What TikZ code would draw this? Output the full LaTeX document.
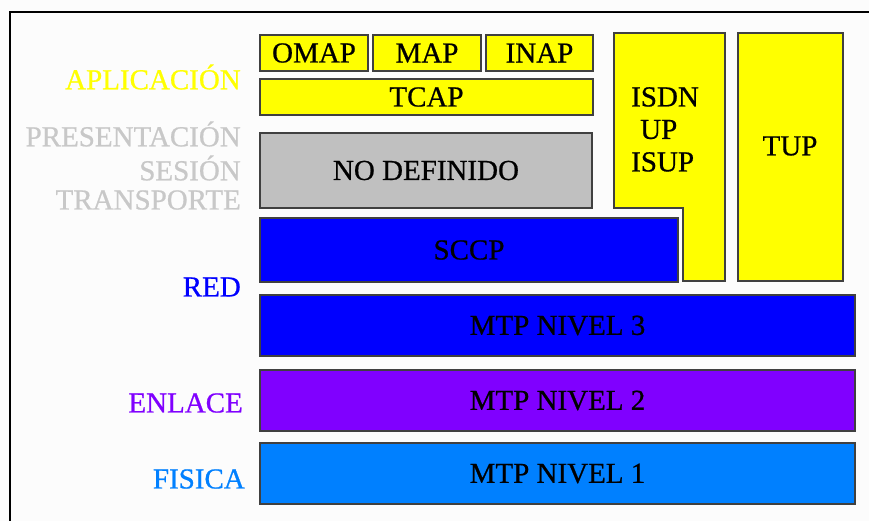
\documentclass[tikz,border=0pt]{standalone}
\usepackage{fontspec}
\setmainfont[FakeBold=0.7]{Liberation Serif}
\definecolor{ylw}{HTML}{FFFF00}
\definecolor{gry}{HTML}{C0C0C0}
\definecolor{blu}{HTML}{0000FF}
\definecolor{pur}{HTML}{8000FF}
\definecolor{lbl}{HTML}{0080FF}
\definecolor{lgry}{HTML}{C8C8C8}
\definecolor{bg}{HTML}{FCFCFC}
\definecolor{edge}{HTML}{404040}
\tikzset{
  layer/.style={draw=edge, line width=1.3pt, anchor=north west, inner sep=0pt, outer sep=0pt,
    font=\fontsize{29}{31}\selectfont, text=black},
  lab/.style={anchor=east, inner sep=0pt, font=\fontsize{29}{31}\selectfont},
  txt/.style={inner sep=0pt, font=\fontsize{29}{31}\selectfont}
}
\begin{document}
\begin{tikzpicture}[x=1pt,y=-1pt]
\useasboundingbox (0,0) rectangle (869,521);
\fill[bg] (0,0) rectangle (869,521);
\draw[line width=2pt] (10,521) -- (10,12) -- (869,12);
% top application boxes
\node[layer, fill=ylw, minimum width=108pt, minimum height=36pt] (omap) at (260,35) {OMAP};
\node[layer, fill=ylw, minimum width=108pt, minimum height=36pt] (map) at (373,35) {MAP};
\node[layer, fill=ylw, minimum width=107pt, minimum height=36pt] (inap) at (486,35) {INAP};
\node[layer, fill=ylw, minimum width=333pt, minimum height=36pt] (tcap) at (260,79) {TCAP};
\node[layer, fill=gry, minimum width=332pt, minimum height=75pt] (nodef) at (260,133) {NO DEFINIDO};
\node[layer, fill=blu, minimum width=418pt, minimum height=64pt] (sccp) at (260,218) {SCCP};
\node[layer, fill=blu, minimum width=595pt, minimum height=61pt] (mtp3) at (260,295) {MTP NIVEL 3};
\node[layer, fill=pur, minimum width=595pt, minimum height=61pt] (mtp2) at (260,370) {MTP NIVEL 2};
\node[layer, fill=lbl, minimum width=595pt, minimum height=61pt] (mtp1) at (260,443) {MTP NIVEL 1};
% ISDN shape
\draw[draw=edge, line width=1.3pt, fill=ylw] (614,33) -- (725,33) -- (725,281) -- (683,281) -- (683,208) -- (614,208) -- cycle;
\node[txt, anchor=north west, align=left, font=\fontsize{29}{32.5}\selectfont] (isdn) at (631,87) {ISDN\\\hspace*{9pt}UP\\ISUP};
\node[layer, fill=ylw, minimum width=105pt, minimum height=248pt] (tup) at (738,33) {};
\node[txt] (tuptxt) at (790,146) {TUP};
% left labels
\node[lab, text=ylw] (apl) at (241,77) {APLICACIÓN};
\node[lab, text=lgry] (pres) at (241,134) {PRESENTACIÓN};
\node[lab, text=lgry] (ses) at (241,168) {SESIÓN};
\node[lab, text=lgry] (trans) at (241,200) {TRANSPORTE};
\node[lab, text=blu] (red) at (241,287) {RED};
\node[lab, text=pur] (enl) at (243,403) {ENLACE};
\node[lab, text=lbl] (fis) at (245,479) {FISICA};
\end{tikzpicture}
\end{document}
